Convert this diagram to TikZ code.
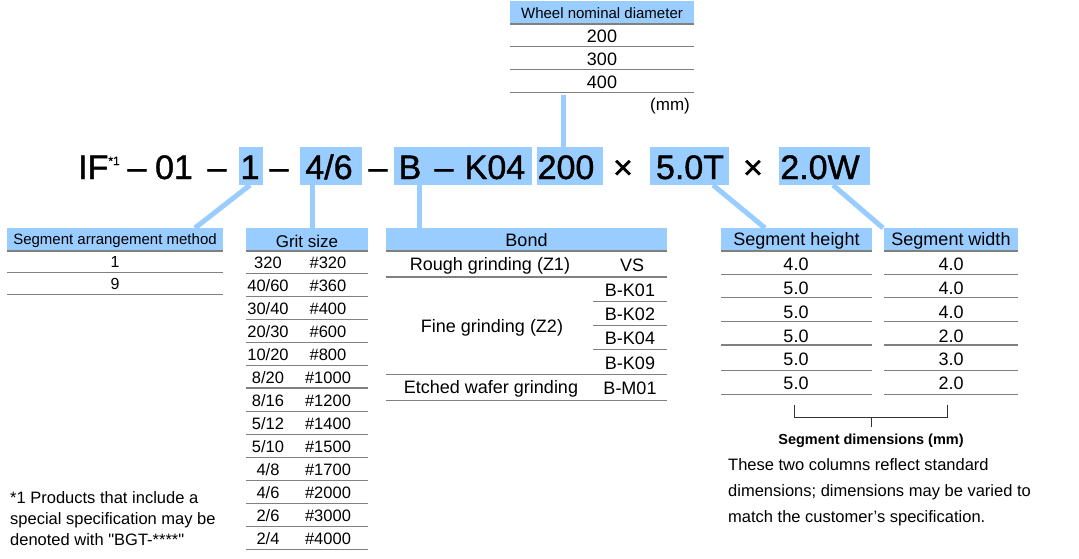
\documentclass[tikz,border=0pt]{standalone}
\usepackage{fontspec}
\setmainfont{Liberation Sans}
\newfontfamily\codefont[FakeBold=1.2]{Liberation Sans}
\definecolor{hdr}{RGB}{153,204,255}
\definecolor{rulegray}{RGB}{128,128,128}
\begin{document}
\begin{tikzpicture}[x=1pt,y=-1pt,
  hbox/.style={fill=hdr,inner sep=0pt,minimum height=22pt},
  cell/.style={inner sep=0pt,font=\fontsize{18}{18}\selectfont},
  gcell/.style={inner sep=0pt,font=\fontsize{16.5}{16.5}\selectfont},
  thinrule/.style={draw=rulegray,line width=1pt},
  thickrule/.style={draw=rulegray,line width=2.2pt},
  conn/.style={draw=hdr,line width=5pt},
  codetext/.style={inner sep=0pt,anchor=base,font=\codefont\fontsize{34}{34}\selectfont},
  cbox/.style={fill=hdr,inner sep=0pt,minimum height=38pt},
  plain/.style={inner sep=0pt,anchor=base west,font=\fontsize{16.5}{16.5}\selectfont}]
\useasboundingbox[fill=white] (0,0) rectangle (1079,559);

% ---------- code line boxes ----------
\node[cbox,minimum width=24pt] (b1) at (251,166) {};
\node[cbox,minimum width=62pt] (b46) at (331,166) {};
\node[cbox,minimum width=138pt] (bB) at (463,166) {};
\node[cbox,minimum width=66pt] (b200) at (570,166) {};
\node[cbox,minimum width=79pt] (b5) at (689.5,166) {};
\node[cbox,minimum width=91pt] (b2) at (824.5,166) {};

% ---------- table headers ----------
\node[hbox,minimum width=184pt] (wh) at (602,12) {};
\node[inner sep=0pt,font=\fontsize{15}{15}\selectfont] (wht) at (602,13.5) {Wheel nominal diameter};
\node[hbox,minimum width=216pt] (sh) at (115,239) {};
\node[inner sep=0pt,font=\fontsize{15}{15}\selectfont] (sht) at (115,241) {Segment arrangement method};
\node[hbox,minimum width=122pt] (gh) at (307,239) {};
\node[inner sep=0pt,font=\fontsize{17}{17}\selectfont] (ght) at (307,241) {Grit size};
\node[hbox,minimum width=281pt] (bh) at (526.5,239) {};
\node[inner sep=0pt,font=\fontsize{18}{18}\selectfont] (bht) at (526.5,240) {Bond};
\node[hbox,minimum width=151pt] (hh) at (796.5,239) {};
\node[inner sep=0pt,font=\fontsize{18}{18}\selectfont] (hht) at (796.5,241) {Segment height};
\node[hbox,minimum width=134pt] (ww) at (951,239) {};
\node[inner sep=0pt,font=\fontsize{18}{18}\selectfont] (wwt) at (951,241) {Segment width};

% ---------- connectors ----------
\coordinate (wbot) at (563,95);
\coordinate (c1) at (195,228);
\coordinate (c5) at (765,228);
\coordinate (c2) at (883,228);
\draw[conn] (b200.north -| wbot) -- (wbot);
\draw[conn] (250,185) -- (c1);
\draw[conn] (b46.south -| 312,0) -- (gh.north -| 312,0);
\draw[conn] (bB.south -| 419,0) -- (bh.north -| 419,0);
\draw[conn] (713,185) -- (c5);
\draw[conn] (833,185) -- (c2);

% ---------- code line text ----------
\node[codetext,anchor=base west] (tIF) at (78,179) {IF\raisebox{14pt}{\fontsize{12}{12}\selectfont *1}};
\node[codetext] (d1) at (137,179) {–};
\node[codetext] (t01) at (174,179) {01};
\node[codetext] (d2) at (217,179) {–};
\node[codetext] (t1) at (250,179) {1};
\node[codetext] (d3) at (279,179) {–};
\node[codetext] (t46) at (329,179) {4/6};
\node[codetext] (d4) at (378,179) {–};
\node[codetext] (tB) at (410,179) {B};
\node[codetext] (d5) at (444,179) {–};
\node[codetext] (tK) at (495,179) {K04};
\node[codetext] (t200) at (566,179) {200};
\node[codetext] (x1) at (623,179) {×};
\node[codetext] (t5) at (690,179) {5.0T};
\node[codetext] (x2) at (753,179) {×};
\node[codetext] (t2) at (820,179) {2.0W};

% ---------- wheel nominal diameter ----------
\draw[thickrule] (wh.south west) ++(0,1) -- ++(184,0);
\foreach \t [count=\i from 0] in {200,300,400} {
  \node[cell] (w\i) at (602,36.5+23*\i) {\t};
  \draw[thinrule] (510,47+23*\i) -- (694,47+23*\i);
}
\node[inner sep=0pt,font=\fontsize{17}{17}\selectfont] (mm) at (670,106) {(mm)};

% ---------- segment arrangement method ----------
\draw[thickrule] (sh.south west) ++(0,1) -- ++(216,0);
\foreach \t [count=\i from 0] in {1,9} {
  \node[gcell,font=\fontsize{16}{16}\selectfont] (s\i) at (115,262+22*\i) {\t};
  \draw[thinrule] (7,272+22*\i) -- (223,272+22*\i);
}

% ---------- grit size ----------
\draw[thickrule] (gh.south west) ++(0,1) -- ++(122,0);
\foreach \t [count=\i from 0] in {320,40/60,30/40,20/30,10/20,8/20,8/16,5/12,5/10,4/8,4/6,2/6,2/4} {
  \node[gcell] (ga\i) at (268,262.5+23*\i) {\t};
  \ifnum\i=5
    \draw[thickrule] (246,273+23*\i) -- (368,273+23*\i);
  \else
    \draw[thinrule] (246,273+23*\i) -- (368,273+23*\i);
  \fi
}
\foreach \t [count=\i from 0] in {320,360,400,600,800,1000,1200,1400,1500,1700,2000,3000,4000} {
  \node[gcell] (gb\i) at (328,262.5+23*\i) {\#\t};
}

% ---------- bond ----------
\draw[thickrule] (bh.south west) ++(0,1) -- ++(281,0);
\node[cell] (r1) at (490,265.5) {Rough grinding (Z1)};
\node[cell] (vs) at (632,265.5) {VS};
\draw[thickrule,line width=1.8pt] (386,277) -- (667,277);
\foreach \t [count=\i from 0] in {B-K01,B-K02,B-K04,B-K09} {
  \node[cell] (k\i) at (630,290+24.3*\i) {\t};
}
\foreach \y in {301,325,349} { \draw[thinrule] (593,\y) -- (667,\y); }
\node[cell] (fg) at (492,328) {Fine grinding (Z2)};
\draw[thinrule] (386,374) -- (667,374);
\node[cell] (ew) at (491,388.5) {Etched wafer grinding};
\node[cell] (bm) at (630,388.5) {B-M01};
\draw[thinrule] (386,400) -- (667,400);

% ---------- segment height / width ----------
\draw[thickrule] (hh.south west) ++(0,1) -- ++(151,0);
\draw[thickrule] (ww.south west) ++(0,1) -- ++(134,0);
\foreach \t [count=\i from 0] in {4.0,5.0,5.0,5.0,5.0,5.0} {
  \node[cell] (h\i) at (796,264.5+23.8*\i) {\t};
}
\foreach \t [count=\i from 0] in {4.0,4.0,4.0,2.0,3.0,2.0} {
  \node[cell] (wv\i) at (951,264.5+23.8*\i) {\t};
}
\foreach \y/\w in {274/1pt,297/1pt,321/1pt,345/2.2pt,370/1pt,394/1pt} {
  \draw[draw=rulegray,line width=\w] (721,\y) -- (872,\y);
  \draw[draw=rulegray,line width=\w] (884,\y) -- (1018,\y);
}

% ---------- bracket ----------
\coordinate (bl) at (794,405);
\coordinate (br) at (947,405);
\coordinate (bc) at (871,427);
\draw[draw=black!80,line width=1pt] (bl) -- (bl |- 0,417) -- (br |- 0,417) -- (br);
\draw[draw=black!80,line width=1pt] (bc |- 0,417) -- (bc);
\node[inner sep=0pt,font=\bfseries\fontsize{14.5}{14.5}\selectfont] (sd) at (871,441) {Segment dimensions (mm)};
\node[plain] (p1) at (728,470) {These two columns reflect standard};
\node[plain] (p2) at (728,496) {dimensions; dimensions may be varied to};
\node[plain] (p3) at (728,522) {match the customer’s specification.};

% ---------- footnote ----------
\node[plain] (f1) at (10,503) {*1 Products that include a};
\node[plain] (f2) at (10,524) {special specification may be};
\node[plain] (f3) at (10,545) {denoted with \textquotedbl BGT-****\textquotedbl};
\end{tikzpicture}
\end{document}
